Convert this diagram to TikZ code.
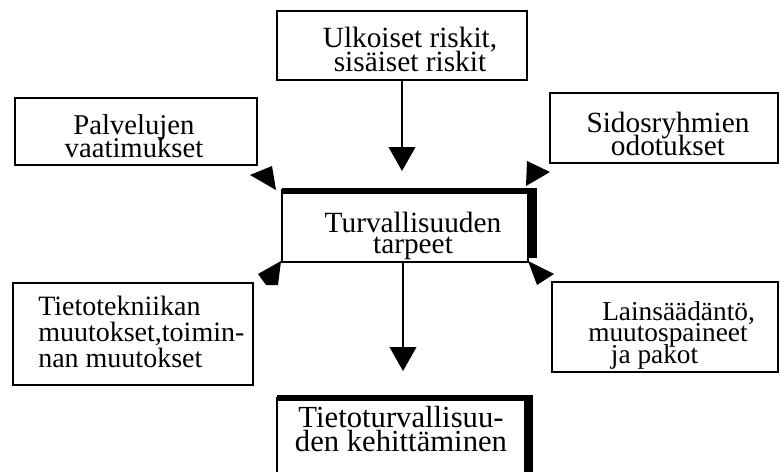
\documentclass[tikz,border=0pt]{standalone}
\usepackage{fontspec}
\setmainfont{Liberation Serif}
\usetikzlibrary{arrows.meta}
\newcommand\fsz[2]{\fontsize{#1}{#2}\selectfont\lineskiplimit=-100pt\relax}
\tikzset{
  box/.style={draw, line width=1.5pt, inner sep=0pt},
  txt/.style={inner sep=0pt, align=center},
  shaft/.style={line width=1.5pt, -{Triangle[width=20pt,length=18pt]}},
  band/.style={fill=black},
  head/.style={fill=black},
}
\begin{document}
\begin{tikzpicture}[x=0.75pt,y=-0.75pt]
\clip (0,0) rectangle (780,471);
% boxes
\node[box, minimum width=187.5pt, minimum height=51.75pt] (top) at (402,45.5) {};
\node[box, minimum width=181.5pt, minimum height=50.25pt] (pal) at (136,131.5) {};
\node[box, minimum width=171pt, minimum height=52.5pt] (sid) at (664,128) {};
\node[box, minimum width=184.5pt, minimum height=54pt] (cen) at (405,226) {};
\node[box, minimum width=180pt, minimum height=76.5pt] (tie) at (133,334) {};
\node[box, minimum width=169.5pt, minimum height=67.5pt] (lain) at (665,327) {};
\node[box, minimum width=186pt, minimum height=69pt] (bot) at (401,444) {};
% thick edges
\fill[band] (282,188) rectangle (537,194);
\fill[band] (528,190) rectangle (537,258);
\fill[band] (277,395) rectangle (533,401);
\fill[band] (525,395) rectangle (533,480);
% texts
\node[txt, anchor=north, font=\fsz{22}{18}] (ttop) at (410,26.8) {Ulkoiset riskit,\\ sisäiset riskit};
\node[txt, anchor=north, font=\fsz{21.5}{17.5}] (tpal) at (134,114.2) {Palvelujen\\vaatimukset};
\node[txt, anchor=north, font=\fsz{22}{17.5}] (tsid) at (668,111.8) {Sidosryhmien\\odotukset};
\node[txt, anchor=north, font=\fsz{22}{16}] (tcen) at (413,211.8) {Turvallisuuden\\tarpeet};
\node[txt, align=left, anchor=north west, font=\fsz{21}{19.5}] (ttie) at (38,295.7) {Tietotekniikan\\muutokset,toimin-\\nan muutokset};
\node[txt, align=left, anchor=north west, font=\fsz{20.5}{16}] (tlain) at (588,301.1) {\hspace*{10.5pt}Lainsäädäntö,\\muutospaineet\\\hspace*{17pt}ja pakot};
\node[txt, anchor=north, font=\fsz{23}{18}] (tbot) at (401,405.8) {Tietoturvallisuu-\\den kehittäminen};
% vertical arrows
\draw[shaft, shorten >=13.5pt] (top.south) -- (top.south |- cen.north);
\draw[shaft, shorten >=19.5pt] ([xshift=-1.5pt]cen.south) -- ([xshift=-1.5pt]cen.south |- bot.north);
% diagonal arrowheads
\fill[head] (250,175) -- (272,166) -- (276,190) -- cycle;
\fill[head] (527,161) -- (550,172) -- (526,186) -- cycle;
\fill[head] (258,274) -- (281,261) -- (278,285) -- (266,285) -- cycle;
\fill[head] (528,261) -- (554,274) -- (537,285) -- cycle;
\end{tikzpicture}
\end{document}
